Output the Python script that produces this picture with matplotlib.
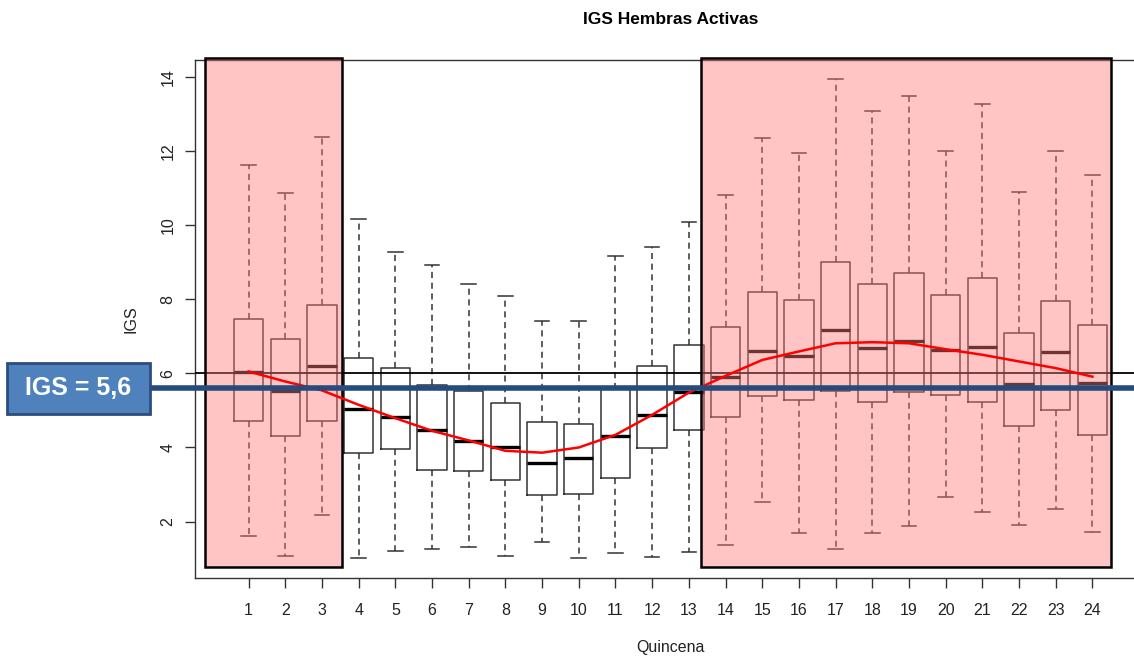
import matplotlib
matplotlib.use("Agg")
import matplotlib.pyplot as plt
from matplotlib.patches import Rectangle
from matplotlib.transforms import blended_transform_factory

plt.rcParams['font.family'] = ['Liberation Sans', 'DejaVu Sans']

# ---- data ----
quincena = list(range(1, 25))
whis_lo = [1.60, 1.08, 2.18, 1.01, 1.22, 1.25, 1.31, 1.08, 1.46, 1.01, 1.16, 1.04,
           1.19, 1.37, 2.53, 1.69, 1.25, 1.69, 1.87, 2.66, 2.27, 1.92, 2.34, 1.72]
q1 = [4.71, 4.30, 4.71, 3.85, 3.95, 3.39, 3.36, 3.12, 2.71, 2.75, 3.18, 3.98,
      4.47, 4.82, 5.38, 5.28, 5.53, 5.23, 5.49, 5.41, 5.22, 4.59, 5.02, 4.33]
median = [6.03, 5.53, 6.20, 5.03, 4.82, 4.47, 4.17, 4.00, 3.58, 3.71, 4.32, 4.88,
          5.49, 5.90, 6.60, 6.46, 7.17, 6.67, 6.87, 6.62, 6.72, 5.70, 6.58, 5.75]
q3 = [7.46, 6.93, 7.85, 6.42, 6.14, 5.68, 5.52, 5.20, 4.70, 4.64, 5.57, 6.19,
      6.76, 7.24, 8.19, 7.97, 9.00, 8.42, 8.71, 8.10, 8.56, 7.10, 7.95, 7.31]
whis_hi = [11.62, 10.86, 12.36, 10.17, 9.27, 8.92, 8.42, 8.09, 7.40, 7.40, 9.17, 9.41,
           10.08, 10.82, 12.34, 11.95, 13.93, 13.08, 13.48, 11.99, 13.25, 10.90, 11.99, 11.34]
trend = [6.05, 5.78, 5.54, 5.15, 4.79, 4.45, 4.19, 3.91, 3.86, 4.00, 4.34, 4.88,
         5.48, 5.93, 6.36, 6.59, 6.81, 6.84, 6.81, 6.65, 6.50, 6.32, 6.14, 5.91]
yticks = [2, 4, 6, 8, 10, 12, 14]
ref_line = 6.0
igs_value = 5.6
igs_label = "IGS = 5,6"
shaded_ranges = [(-0.18, 3.56), (13.33, 24.5)]
shade_y = (0.79, 14.51)

fig = plt.figure(figsize=(11.34, 6.6), dpi=100)
ax = fig.add_axes([195/1134, 82/660, (1146-195)/1134, 518/660])

stats = [dict(med=m, q1=a, q3=b, whislo=lo, whishi=hi, label=str(x))
         for x, lo, a, m, b, hi in zip(quincena, whis_lo, q1, median, q3, whis_hi)]
line_col = '#333333'
ax.bxp(stats, positions=quincena, widths=0.8, capwidths=0.4, showfliers=False,
       boxprops=dict(color=line_col, linewidth=1.1),
       whiskerprops=dict(color=line_col, linewidth=1.1, linestyle=(0, (4, 3))),
       capprops=dict(color=line_col, linewidth=1.1),
       medianprops=dict(color='black', linewidth=2.4, solid_capstyle='butt'))

ax.axhline(ref_line, color='black', linewidth=1.3, zorder=3)

for x0, x1 in shaded_ranges:
    ax.add_patch(Rectangle((x0, shade_y[0]), x1 - x0, shade_y[1] - shade_y[0],
                           facecolor=(1.0, 0.48, 0.48), alpha=0.43, edgecolor='none',
                           zorder=5, clip_on=False))
    ax.add_patch(Rectangle((x0, shade_y[0]), x1 - x0, shade_y[1] - shade_y[0],
                           facecolor='none', edgecolor='black', linewidth=1.8,
                           zorder=6, clip_on=False))

ax.plot(quincena, trend, color='red', linewidth=1.8, zorder=7)

ax.set_xlim(-0.46, 25.46)
ax.set_ylim(0.48, 14.45)
ax.set_xticks(quincena)
ax.set_xticklabels([str(q) for q in quincena])
ax.set_yticks(yticks)
ax.set_yticklabels([str(t) for t in yticks], rotation=90, va='center')
for s in ax.spines.values():
    s.set_color('#333333')
    s.set_linewidth(1.0)
ax.tick_params(axis='both', direction='out', length=7, width=1.0, color='#333333',
               labelsize=11.5, labelcolor='#222222')
ax.tick_params(axis='x', pad=11)
ax.tick_params(axis='y', pad=7)

ax.set_title("IGS Hembras Activas", fontsize=12.5, fontweight='bold', pad=26)
ax.set_xlabel("Quincena", fontsize=11.5, labelpad=16, color='#222222')
ax.set_ylabel("IGS", fontsize=11.5, labelpad=16, color='#222222')

# overlay: blue reference line and label box
tr = blended_transform_factory(fig.transFigure, ax.transData)
ax.plot([150/1134, 1.0], [igs_value, igs_value], transform=tr, color='#264B7D',
        linewidth=4.0, clip_on=False, zorder=8, solid_capstyle='butt')
box_h = 51/37.08
ax.add_patch(Rectangle((7/1134, igs_value - box_h/2), 143/1134, box_h, transform=tr,
                       facecolor='#4F81BD', edgecolor='#2C4D7E', linewidth=2.0,
                       clip_on=False, zorder=9))
ax.text(78.5/1134, igs_value, igs_label, transform=tr, ha='center', va='center',
        color='white', fontsize=18, fontweight='bold', zorder=10, clip_on=False)

fig.savefig("out.png", dpi=100)
